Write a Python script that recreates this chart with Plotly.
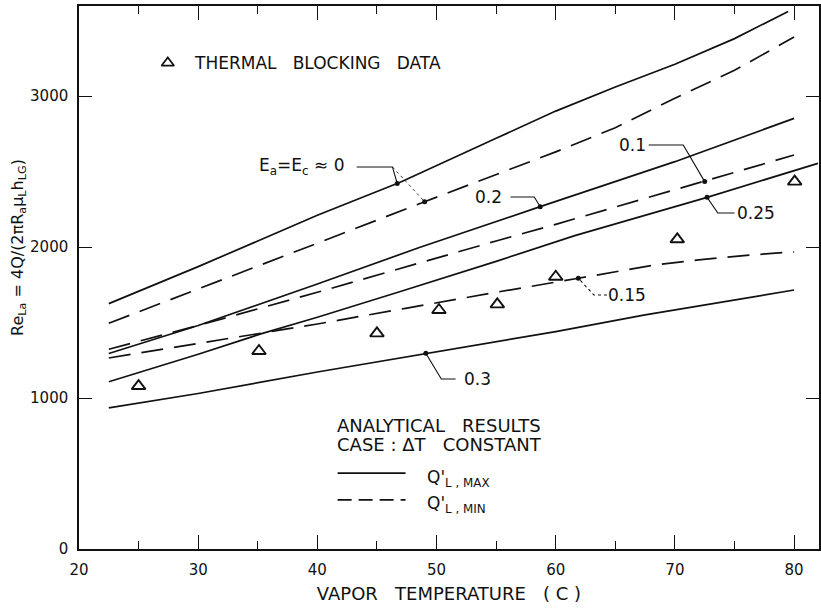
import numpy as np
import plotly.graph_objects as go

# ---- data ----
x_s0 = [22.5, 30, 35, 40, 47, 50, 55, 60, 65, 70, 75, 79.5]
y_s0 = [1625, 1870, 2040, 2210, 2430, 2540, 2720, 2900, 3060, 3210, 3380, 3560]

x_d0 = [22.5, 30, 40, 49, 55, 60, 65, 70, 75, 80]
y_d0 = [1495, 1720, 2025, 2300, 2480, 2630, 2790, 2985, 3170, 3390]

x_s2 = [22.5, 30, 40, 48.5, 58.7, 70, 80]
y_s2 = [1295, 1480, 1755, 1995, 2267, 2565, 2852]

x_d1 = [22.5, 26.5, 30, 40, 47, 55, 60, 65, 72.5, 80]
y_d1 = [1323, 1406, 1480, 1700, 1860, 2040, 2150, 2265, 2433, 2609]

x_s25 = [22.5, 30, 35.4, 40, 46.9, 55, 61.6, 72.7, 82]
y_s25 = [1108, 1290, 1428, 1535, 1704, 1905, 2075, 2329, 2554]

x_d15 = [22.5, 30, 35, 40, 47.4, 50.5, 55, 61.9, 68.3, 72, 76, 80]
y_d15 = [1265, 1360, 1425, 1490, 1594, 1638, 1700, 1793, 1881, 1915, 1945, 1968]

x_s3 = [22.5, 30, 40, 49.1, 60, 67.5, 80]
y_s3 = [935, 1030, 1172, 1296, 1440, 1550, 1715]

x_tri = [25, 35.1, 45, 50.2, 55.1, 60, 70.2, 80.05]
y_tri = [1079, 1311, 1428, 1583, 1620, 1803, 2051, 2433]

x_ticks = [20, 30, 40, 50, 60, 70, 80]
y_ticks = [0, 1000, 2000, 3000]

BLACK = "#111111"
FONT = "DejaVu Sans"
DASH = "22px,11px"
LW = 1.7
SP = "\u00a0"

fig = go.Figure()

curves = [
    (x_s0, y_s0, "solid"), (x_d0, y_d0, DASH),
    (x_s2, y_s2, "solid"), (x_d1, y_d1, DASH),
    (x_s25, y_s25, "solid"), (x_d15, y_d15, DASH),
    (x_s3, y_s3, "solid"),
]
for xs, ys, dash in curves:
    fig.add_trace(go.Scatter(x=xs, y=ys, mode="lines",
                             line=dict(color=BLACK, width=LW, dash=dash),
                             showlegend=False, hoverinfo="skip"))

fig.add_trace(go.Scatter(x=x_tri, y=y_tri, mode="markers",
                         marker=dict(symbol="triangle-up-open", size=12,
                                     color=BLACK, line=dict(width=1.9, color=BLACK)),
                         showlegend=False))

# legend triangle
fig.add_trace(go.Scatter(x=[27.45], y=[3219], mode="markers",
                         marker=dict(symbol="triangle-up-open", size=11,
                                     color=BLACK, line=dict(width=1.7, color=BLACK)),
                         showlegend=False))

def dot_y(xq, xs, ys):
    return float(np.interp(xq, xs, ys))

# (label, text_x, text_y, elbow_x1, elbow_x2, curve_x, curve_xs, curve_ys)
leaders = [
    ("0.1", 66.4, 2675, 67.8, 70.7, 72.5, x_d1, y_d1),
    ("0.2", 54.4, 2331, 56.2, 58.2, 58.7, x_s2, y_s2),
    ("0.25", 76.8, 2225, 75.0, 73.6, 72.7, x_s25, y_s25),
    ("0.15", 66.0, 1682, 64.3, 63.2, 61.9, x_d15, y_d15),
    ("0.3", 53.4, 1126, 51.6, 50.4, 49.1, x_s3, y_s3),
]
dots_x, dots_y = [], []
for lab, tx, ty, e1, e2, cx, xs, ys in leaders:
    cy = dot_y(cx, xs, ys)
    fig.add_trace(go.Scatter(x=[e1, e2, cx], y=[ty, ty, cy], mode="lines",
                             line=dict(color=BLACK, width=1.1,
                                       dash="dot" if lab == "0.15" else "solid"),
                             showlegend=False, hoverinfo="skip"))
    dots_x.append(cx); dots_y.append(cy)
    fig.add_annotation(x=tx, y=ty, text=lab, showarrow=False, xanchor="center",
                       yanchor="middle", font=dict(family=FONT, size=17, color=BLACK))

# Ea=Ec=0 leader (to both solid and dashed)
cy0 = dot_y(46.7, x_s0, y_s0)
cyd = dot_y(49.0, x_d0, y_d0)
fig.add_trace(go.Scatter(x=[43.3, 46.3, 46.7], y=[2530, 2530, cy0], mode="lines",
                         line=dict(color=BLACK, width=1.1), showlegend=False))
fig.add_trace(go.Scatter(x=[46.3, 49.0], y=[2530, cyd], mode="lines",
                         line=dict(color=BLACK, width=0.8, dash="dot"), showlegend=False))
dots_x += [46.7, 49.0]; dots_y += [cy0, cyd]
fig.add_trace(go.Scatter(x=dots_x, y=dots_y, mode="markers",
                         marker=dict(size=5, color=BLACK), showlegend=False))
fig.add_annotation(x=38.7, y=2530, text="E<sub>a</sub>=E<sub>c</sub> ≈ 0", showarrow=False,
                   xanchor="center", yanchor="middle",
                   font=dict(family=FONT, size=17, color=BLACK))

# ---- text blocks ----
fig.add_annotation(x=29.5, y=3219, text=f"THERMAL{SP*3}BLOCKING{SP*3}DATA", showarrow=False,
                   xanchor="left", yanchor="middle", font=dict(family=FONT, size=17, color=BLACK))
fig.add_annotation(x=41.5, y=821, text=f"ANALYTICAL{SP*3}RESULTS", showarrow=False,
                   xanchor="left", yanchor="middle", font=dict(family=FONT, size=18, color=BLACK))
fig.add_annotation(x=41.5, y=695, text=f"CASE{SP}:{SP}ΔT{SP*3}CONSTANT", showarrow=False,
                   xanchor="left", yanchor="middle", font=dict(family=FONT, size=18, color=BLACK))
fig.add_shape(type="line", x0=41.7, x1=47.4, y0=503, y1=503, line=dict(color=BLACK, width=LW))
fig.add_shape(type="line", x0=41.7, x1=47.4, y0=325, y1=325,
              line=dict(color=BLACK, width=LW, dash="14px,7px"))
fig.add_annotation(x=49.0, y=470, text="Q'<sub>L , MAX</sub>", showarrow=False,
                   xanchor="left", yanchor="middle", font=dict(family=FONT, size=17, color=BLACK))
fig.add_annotation(x=49.0, y=296, text="Q'<sub>L , MIN</sub>", showarrow=False,
                   xanchor="left", yanchor="middle", font=dict(family=FONT, size=17, color=BLACK))

# y axis title
fig.add_annotation(xref="paper", yref="paper", x=-0.082, y=0.555, textangle=-90,
                   text="Re<sub>La</sub> = 4Q/(2πR<sub>a</sub>μ<sub>L</sub>h<sub>LG</sub>)",
                   showarrow=False, xanchor="center", yanchor="middle",
                   font=dict(family=FONT, size=16, color=BLACK))

fig.update_layout(
    width=821, height=609,
    margin=dict(l=79, r=0, t=6, b=60),
    paper_bgcolor="white", plot_bgcolor="white",
    font=dict(family=FONT, size=15, color=BLACK),
    showlegend=False,
    xaxis=dict(range=[20, 82.09], tickvals=x_ticks, ticks="inside", ticklen=14,
               tickwidth=1.3, tickcolor=BLACK, showline=True, linecolor=BLACK,
               linewidth=1.5, mirror="ticks", showgrid=False, zeroline=False,
               minor=dict(dtick=5, tick0=20, ticks="inside", ticklen=8, tickwidth=1.3,
                          tickcolor=BLACK, showgrid=False),
               ticklabelstandoff=6,
               title=dict(text=f"VAPOR{SP*3}TEMPERATURE{SP*3}({SP}C{SP})", standoff=10,
                          font=dict(family=FONT, size=18, color=BLACK)),
               tickfont=dict(family=FONT, size=15, color=BLACK)),
    yaxis=dict(range=[0, 3596], tickvals=y_ticks, ticks="inside", ticklen=13,
               tickwidth=1.3, tickcolor=BLACK, showline=True, linecolor=BLACK,
               linewidth=1.5, mirror="ticks", showgrid=False, zeroline=False,
               ticklabelstandoff=6,
               tickfont=dict(family=FONT, size=15, color=BLACK)),
)

fig.write_html("out.html")
